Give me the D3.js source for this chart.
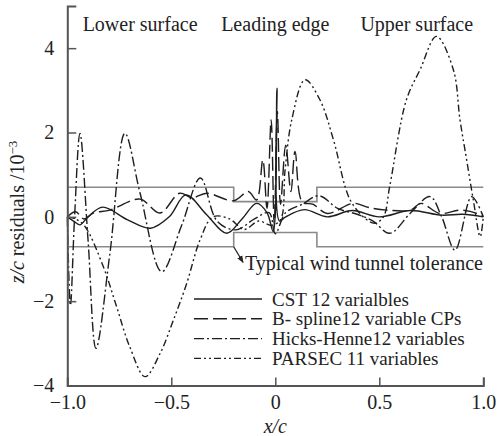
<!DOCTYPE html>
<html>
<head>
<meta charset="utf-8">
<script src="https://cdn.jsdelivr.net/npm/d3@7"></script>
<style>
  body { margin: 0; background: #fff; }
  svg text { font-family: "Liberation Serif", "DejaVu Serif", serif; fill: #222; }
</style>
</head>
<body>
<svg width="499" height="436"></svg>
<script>
// residual curves, [x/c, residual*1e3]
const cst = [[-1, 0], [-0.97, -0.1], [-0.94, -0.19], [-0.9, 0.0], [-0.83, 0.23], [-0.71, -0.07],
  [-0.6, -0.27], [-0.51, 0.0], [-0.43, 0.52], [-0.33, 0.05], [-0.234, -0.39], [-0.16, -0.05],
  [-0.09, 0.32], [-0.04, 0.1], [-0.01, -0.35], [0.008, 3.05], [0.02, -0.1], [0.05, 0.0],
  [0.14, 0.17], [0.25, 0.0], [0.37, 0.15], [0.5, 0.0], [0.65, 0.15], [0.8, 0.04], [0.9, 0.06], [1, 0]];
const bspline = [[-1, 0], [-0.96, 0.12], [-0.92, -0.05], [-0.875, 0.09], [-0.795, 0.16], [-0.65, 0.42],
  [-0.555, 0.09], [-0.46, 0.56], [-0.4, 0.45], [-0.33, 0.56], [-0.2, 0.38], [-0.13, 0.6], [-0.09, 0.4],
  [-0.06, 1.35], [-0.04, 0.2], [-0.02, 2.3], [-0.005, -0.2], [0.01, 2.5], [0.025, 0.3], [0.05, 1.7],
  [0.075, 0.6], [0.095, 1.55], [0.13, 0.35], [0.18, 0.3], [0.25, 0.08], [0.375, 0.32], [0.45, 0.22],
  [0.535, 0.16], [0.65, 0.16], [0.7, 0.32], [0.79, 0.08], [0.89, 0.16], [0.97, 0.08], [1, 0]];
const hicks = [[-1, 0], [-0.985, -2.1], [-0.965, 0.0], [-0.939, 1.98], [-0.9, -0.57], [-0.862, -3.12],
  [-0.795, -0.86], [-0.723, 1.98], [-0.65, 0.56], [-0.546, -1.3], [-0.45, -0.2], [-0.36, 0.92],
  [-0.28, -0.1], [-0.19, -0.31], [-0.1, -0.05], [-0.03, 0.1], [0, -0.4], [0.05, 0.1], [0.13, 0.3],
  [0.21, 0.5], [0.3, 0.2], [0.4, 0.05], [0.47, -0.1], [0.55, -0.39], [0.65, 0.09], [0.744, 0.48],
  [0.8, 0.0], [0.864, -0.79], [0.944, 0.48], [1, 0]];
const parsec = [[-1, 0], [-0.96, -0.05], [-0.915, -0.23], [-0.827, -1.18], [-0.763, -2.13], [-0.7, -3.08],
  [-0.626, -3.79], [-0.554, -3.24], [-0.49, -2.45], [-0.426, -1.58], [-0.362, -0.55], [-0.3, 0.0],
  [-0.22, -0.05], [-0.15, -0.3], [-0.08, -0.1], [-0.02, -0.2], [0.025, -0.07], [0.047, 1.11],
  [0.079, 2.3], [0.143, 3.25], [0.215, 2.77], [0.28, 1.82], [0.36, 0.4], [0.44, -0.07], [0.48, -0.15],
  [0.52, 0.0], [0.55, 0.72], [0.63, 2.77], [0.696, 3.49], [0.775, 4.28], [0.856, 3.49], [0.888, 2.3],
  [0.92, 1.35], [0.952, 0.4], [0.985, -0.47], [1, 0]];
// wind tunnel tolerance band (upper / lower step lines)
const tolUpper = [[-1, 0.7], [-0.2, 0.7], [-0.2, 0.36], [0.2, 0.36], [0.2, 0.7], [1, 0.7]];
const tolLower = [[-1, -0.71], [-0.2, -0.71], [-0.2, -0.37], [0.2, -0.37], [0.2, -0.71], [1, -0.71]];

const seriesNames = ['CST 12  varialbles', 'B- spline12  variable CPs', 'Hicks-Henne12 variables', 'PARSEC 11  variables'];
const regionLabels = [['Lower surface', -0.65], ['Leading edge', 0], ['Upper surface', 0.68]];
const xMajor = [-1, -0.5, 0, 0.5, 1];
const yMajor = [-4, -2, 0, 2, 4];

const svg = d3.select('svg');
const x = d3.scaleLinear().domain([-1, 1]).range([67.3, 483.3]);
const y = d3.scaleLinear().domain([-4, 5]).range([385.5, 6]);
const line = d3.line().x(d => x(d[0])).y(d => y(d[1])).curve(d3.curveCatmullRom.alpha(0.5));
const stepLine = d3.line().x(d => x(d[0])).y(d => y(d[1]));

const dashes = [null, '14,5', '10,3,2,3', '7,3,2,3,2,3'];
const allSeries = [cst, bspline, hicks, parsec];

// tolerance band
svg.append('g').selectAll('path')
  .data([tolUpper, tolLower])
  .join('path')
  .attr('d', stepLine)
  .attr('fill', 'none')
  .attr('stroke', '#8a8a8a')
  .attr('stroke-width', 1.6);

// curves
svg.append('g').selectAll('path')
  .data(allSeries)
  .join('path')
  .attr('d', line)
  .attr('fill', 'none')
  .attr('stroke', '#1e1e1e')
  .attr('stroke-width', 1.4)
  .attr('stroke-dasharray', (d, i) => dashes[i]);

// axes
const xMinor = d3.range(-10, 11).map(v => v / 10);
const yMinor = d3.range(-8, 11).map(v => v / 2);
const fmtX = v => v === 0 ? '0' : d3.format('.1f')(v);

const gx = svg.append('g').attr('transform', `translate(0,${y(-4)})`);
gx.call(d3.axisBottom(x).tickValues(xMinor).tickSize(-5).tickFormat(''));
gx.call(d3.axisBottom(x).tickValues(xMajor).tickSize(-8).tickPadding(9).tickFormat(fmtX));
const gy = svg.append('g').attr('transform', `translate(${x(-1)},0)`);
gy.call(d3.axisLeft(y).tickValues(yMinor).tickSize(-5).tickFormat(''));
gy.call(d3.axisLeft(y).tickValues(yMajor).tickSize(-9).tickPadding(13).tickFormat(d3.format('d')));

svg.selectAll('.domain').attr('stroke', '#555').attr('stroke-width', 2);
svg.selectAll('.tick line').attr('stroke', '#555').attr('stroke-width', 1.5);
svg.selectAll('.tick text').style('font-size', '20px').attr('fill', '#222');

// region labels
svg.append('g').selectAll('text')
  .data(regionLabels)
  .join('text')
  .attr('x', d => x(d[1]))
  .attr('y', 31)
  .attr('text-anchor', 'middle')
  .style('font-size', '20px')
  .text(d => d[0]);

// tolerance annotation
svg.append('defs').append('marker')
  .attr('id', 'arr').attr('viewBox', '0 0 10 10').attr('refX', 9).attr('refY', 5)
  .attr('markerWidth', 6).attr('markerHeight', 6).attr('orient', 'auto')
  .append('path').attr('d', 'M0,1L10,5L0,9z').attr('fill', '#222');
svg.append('line')
  .attr('x1', x(-0.2)).attr('y1', y(-0.71))
  .attr('x2', x(-0.155)).attr('y2', y(-1.08))
  .attr('stroke', '#222').attr('stroke-width', 1.2)
  .attr('marker-end', 'url(#arr)');
svg.append('text')
  .attr('x', 245).attr('y', 269.5)
  .style('font-size', '20px')
  .text('Typical wind tunnel tolerance');

// legend
const legend = svg.append('g').attr('transform', 'translate(194,299)');
const rows = legend.selectAll('g')
  .data(seriesNames)
  .join('g')
  .attr('transform', (d, i) => `translate(0,${i * 19.8})`);
rows.append('line')
  .attr('x1', 0).attr('x2', 68)
  .attr('stroke', '#1e1e1e').attr('stroke-width', 1.4)
  .attr('stroke-dasharray', (d, i) => dashes[i]);
rows.append('text')
  .attr('x', 78).attr('y', 6.5)
  .style('font-size', '19px')
  .text(d => d);

// axis titles
svg.append('text')
  .attr('x', x(0)).attr('y', 433)
  .attr('text-anchor', 'middle')
  .style('font-size', '20px').style('font-style', 'italic')
  .text('x/c');
const yt = svg.append('text')
  .attr('transform', 'translate(24,212) rotate(-90)')
  .attr('text-anchor', 'middle')
  .style('font-size', '20px');
yt.append('tspan').style('font-style', 'italic').text('z/c');
yt.append('tspan').text(' residuals /10');
yt.append('tspan').attr('dy', -7).style('font-size', '13px').text('\u22123');
</script>
</body>
</html>
